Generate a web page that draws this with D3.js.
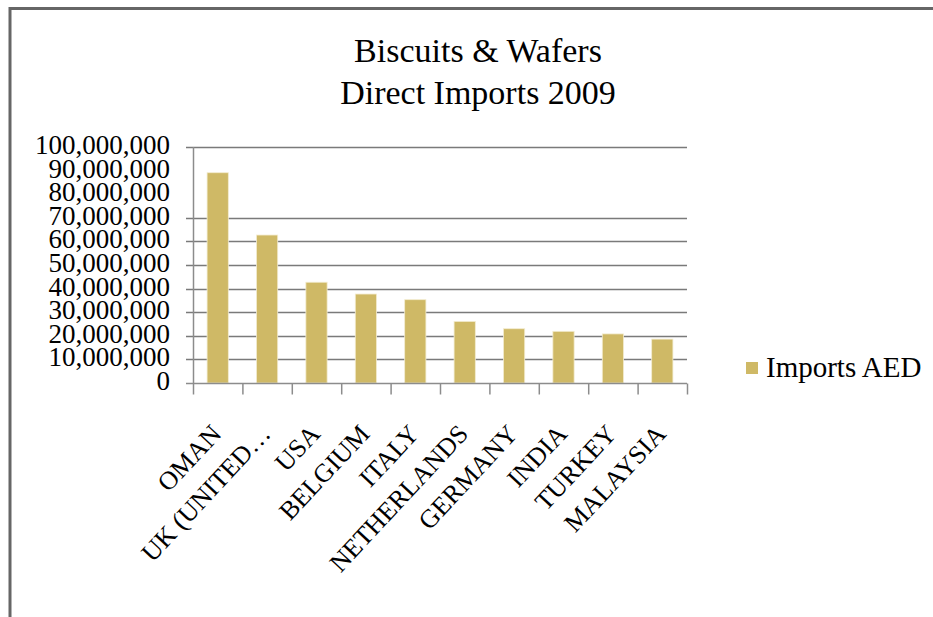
<!DOCTYPE html>
<html>
<head>
<meta charset="utf-8">
<script src="https://cdn.jsdelivr.net/npm/d3@7"></script>
<style>
  body { margin: 0; background: #fff; }
  text { font-family: "Liberation Serif", "DejaVu Serif", serif; fill: #000; }
</style>
</head>
<body>
<svg width="933" height="617"></svg>
<script>
const width = 933,
    height = 617;

const countries = ["OMAN", "UK (UNITED…", "USA", "BELGIUM", "ITALY",
    "NETHERLANDS", "GERMANY", "INDIA", "TURKEY", "MALAYSIA"];
const imports = [89100000, 62700000, 42700000, 37700000, 35300000,
    26100000, 23000000, 21900000, 20800000, 18600000];
const yTicks = [0, 10000000, 20000000, 30000000, 40000000, 50000000,
    60000000, 70000000, 80000000, 90000000, 100000000];
// the original has no gridlines / tick marks at 80M and 90M
const gridTicks = [0, 10000000, 20000000, 30000000, 40000000, 50000000,
    60000000, 70000000, 100000000];
const titleLines = ["Biscuits & Wafers", "Direct Imports 2009"];
const seriesName = "Imports AED";

const barColor = "#cfb966",
    gridColor = "#7a7a7a",
    axisColor = "#8c8c8c";

const svg = d3.select("svg");

// frame
svg.append("path")
    .attr("d", "M10,617 V8.5 H933")
    .attr("fill", "none")
    .attr("stroke", "#666")
    .attr("stroke-width", 3);

const plot = { left: 193, right: 687, top: 147, bottom: 383 };

const x = d3.scaleBand()
    .domain(countries)
    .range([plot.left, plot.right])
    .paddingInner(0.57)
    .paddingOuter(0.285);

const y = d3.scaleLinear()
    .domain([0, 100000000])
    .range([plot.bottom, plot.top]);

const format = d3.format(",d");

// title
svg.append("text")
    .attr("x", 478)
    .attr("y", 62)
    .attr("text-anchor", "middle")
    .style("font-size", "34px")
    .selectAll("tspan")
    .data(titleLines)
    .enter().append("tspan")
    .attr("x", 478)
    .attr("dy", (d, i) => i ? 42 : 0)
    .text(d => d);

// gridlines + left ticks
svg.append("g")
    .selectAll("line")
    .data(gridTicks.filter(d => d > 0))
    .enter().append("line")
    .attr("x1", plot.left - 7)
    .attr("x2", plot.right)
    .attr("y1", d => Math.round(y(d)) + 0.5)
    .attr("y2", d => Math.round(y(d)) + 0.5)
    .attr("stroke", gridColor)
    .attr("stroke-width", 1.5);

// y labels
svg.append("g")
    .selectAll("text")
    .data(yTicks)
    .enter().append("text")
    .attr("x", 170)
    .attr("y", d => y(d) - 2)
    .attr("dy", "0.33em")
    .attr("text-anchor", "end")
    .style("font-size", "27px")
    .text(d => format(d));

// bars
svg.append("g")
    .selectAll("rect")
    .data(imports)
    .enter().append("rect")
    .attr("x", (d, i) => x(countries[i]))
    .attr("y", d => y(d))
    .attr("width", x.bandwidth())
    .attr("height", d => y(0) - y(d))
    .attr("fill", barColor)
    .attr("stroke", "#f3ecd0")
    .attr("stroke-width", 0.8);

// y axis line
svg.append("line")
    .attr("x1", plot.left + 0.5).attr("x2", plot.left + 0.5)
    .attr("y1", plot.top).attr("y2", plot.bottom)
    .attr("stroke", axisColor)
    .attr("stroke-width", 1.5);

// x axis
const xAxis = svg.append("g")
    .attr("transform", "translate(0," + (plot.bottom + 0.5) + ")");

xAxis.append("line")
    .attr("x1", plot.left - 7).attr("x2", plot.right)
    .attr("stroke", axisColor)
    .attr("stroke-width", 1.5);

const step = x.step();
xAxis.selectAll(".tick")
    .data(d3.range(countries.length + 1))
    .enter().append("line")
    .attr("x1", i => plot.left + i * step + 0.5)
    .attr("x2", i => plot.left + i * step + 0.5)
    .attr("y1", 0)
    .attr("y2", 11)
    .attr("stroke", axisColor)
    .attr("stroke-width", 1.5);

// x labels, rotated
svg.append("g")
    .selectAll("text")
    .data(countries)
    .enter().append("text")
    .attr("transform", d => "translate(" + (x(d) + x.bandwidth() / 2 + 5) + "," + (plot.bottom + 52) + ") rotate(-47)")
    .attr("text-anchor", "end")
    .style("font-size", "26px")
    .text(d => d);

// legend
const legend = svg.append("g")
    .attr("transform", "translate(746,362)");

legend.append("rect")
    .attr("width", 12)
    .attr("height", 12)
    .attr("fill", barColor);

legend.append("text")
    .attr("x", 20)
    .attr("y", 14.5)
    .style("font-size", "29px")
    .text(seriesName);
</script>
</body>
</html>
